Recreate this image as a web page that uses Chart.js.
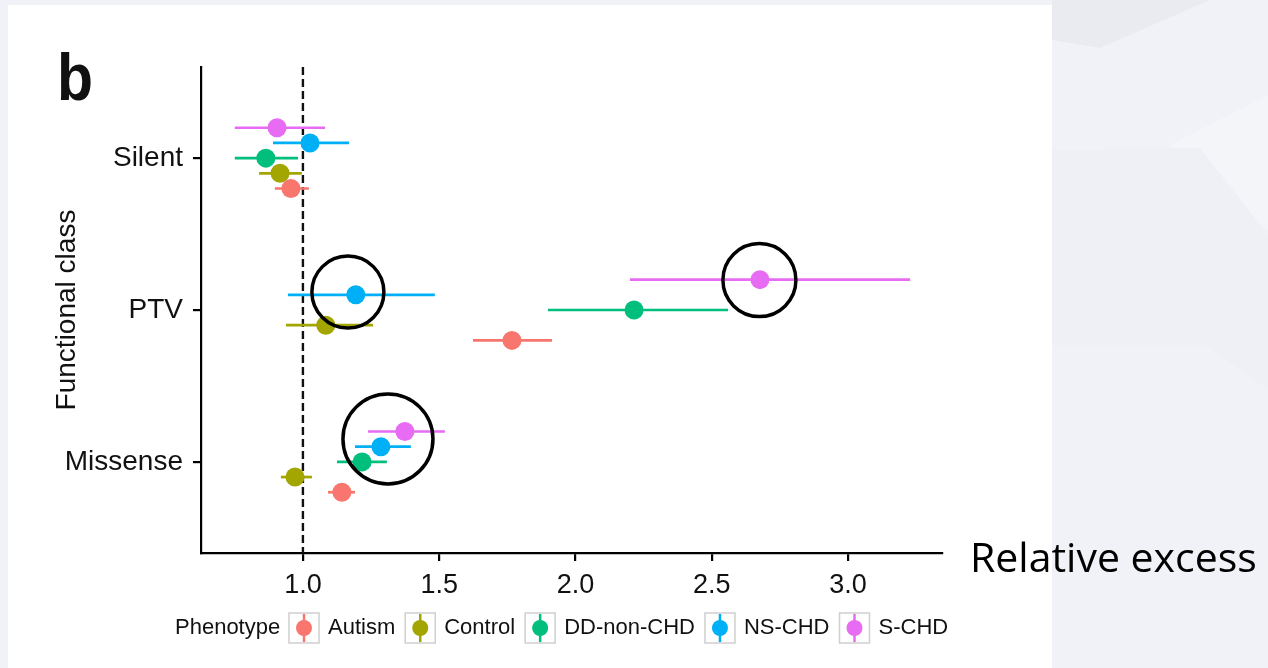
<!DOCTYPE html>
<html>
<head>
<meta charset="utf-8">
<script src="https://cdn.jsdelivr.net/npm/chart.js@4.4.0/dist/chart.umd.min.js"></script>
<style>
  html, body { margin: 0; padding: 0; }
  body { width: 1268px; height: 668px; background: #f1f2f7; position: relative; overflow: hidden; }
  .shape { position: absolute; left: 0; top: 0; width: 1268px; height: 668px; }
  #panel { position: absolute; left: 8px; top: 5px; width: 1044px; height: 663px; background: #fff; }
  #chart { position: absolute; left: 0; top: 0; }
  #panelLabel { position: absolute; left: 57px; top: 43px; font: bold 67px/67px 'Liberation Sans', Arial, sans-serif; color: #111; transform: scaleX(0.88); transform-origin: left top; }
  #xTitle { position: absolute; left: 970px; top: 536px; font: 41px/41px 'Open Sans', sans-serif; color: #000; white-space: nowrap; }
</style>
</head>
<body>
<div class="shape" style="background:#e9ebf1; clip-path: polygon(1052px 0, 1210px 0, 1100px 48px, 1052px 40px);"></div>
<div class="shape" style="background:#f4f5f9; clip-path: polygon(1170px 145px, 1268px 95px, 1268px 230px);"></div>
<div class="shape" style="background:#eef0f5; clip-path: polygon(1052px 150px, 1200px 148px, 1268px 235px, 1268px 390px, 1205px 345px, 1052px 345px);"></div>
<div id="panel"></div>
<canvas id="chart" width="1268" height="668"></canvas>
<div id="panelLabel">b</div>
<div id="xTitle">Relative excess</div>

<script>
// 分類與表型
const classes = ['Missense', 'PTV', 'Silent'];          // y = 1, 2, 3
const phenotypes = ['Autism', 'Control', 'DD-non-CHD', 'NS-CHD', 'S-CHD'];
const phenoColors = ['#F8766D', '#A3A500', '#00BF7D', '#00B0F6', '#E76BF3'];
const phenoOffsets = [-0.2, -0.1, 0, 0.1, 0.2];
const xTicks = [1.0, 1.5, 2.0, 2.5, 3.0];

// 各表型的估計值與信賴區間 (順序: Missense, PTV, Silent)
const autismEst = [1.143, 1.767, 0.956];
const autismLo  = [1.092, 1.624, 0.897];
const autismHi  = [1.191, 1.914, 1.022];

const controlEst = [0.971, 1.084, 0.916];
const controlLo  = [0.919, 0.938, 0.839];
const controlHi  = [1.033, 1.257, 0.996];

const ddEst = [1.217, 2.215, 0.864];
const ddLo  = [1.125, 1.899, 0.750];
const ddHi  = [1.308, 2.560, 0.982];

const nsEst = [1.286, 1.194, 1.026];
const nsLo  = [1.191, 0.945, 0.890];
const nsHi  = [1.396, 1.484, 1.169];

const sEst = [1.374, 2.677, 0.905];
const sLo  = [1.239, 2.200, 0.750];
const sHi  = [1.521, 3.228, 1.081];

// 圈起來的註記 (資料座標)
const circleX = [1.165, 2.675, 1.312];
const circleY = [2.118, 2.197, 1.151];
const circleR = [36, 36.5, 45];

const estimates = [autismEst, controlEst, ddEst, nsEst, sEst];
const lowers = [autismLo, controlLo, ddLo, nsLo, sLo];
const uppers = [autismHi, controlHi, ddHi, nsHi, sHi];

const FONT = "'Liberation Sans', Arial, sans-serif";

// 誤差線
const errorBars = {
  id: 'errorBars',
  beforeDatasetsDraw(chart) {
    const { ctx, scales: { x, y } } = chart;
    ctx.save();
    ctx.lineWidth = 2.7;
    chart.data.datasets.forEach(ds => {
      ctx.strokeStyle = ds.borderColor;
      ds.data.forEach(p => {
        const py = y.getPixelForValue(p.y);
        ctx.beginPath();
        ctx.moveTo(x.getPixelForValue(p.lo), py);
        ctx.lineTo(x.getPixelForValue(p.hi), py);
        ctx.stroke();
      });
    });
    ctx.restore();
  }
};

// x = 1 的虛線
const refLine = {
  id: 'refLine',
  beforeDatasetsDraw(chart) {
    const { ctx, chartArea, scales: { x } } = chart;
    const px = x.getPixelForValue(1);
    ctx.save();
    ctx.strokeStyle = '#111';
    ctx.lineWidth = 2.4;
    ctx.setLineDash([8, 4]);
    ctx.beginPath();
    ctx.moveTo(px, chartArea.top);
    ctx.lineTo(px, chartArea.bottom);
    ctx.stroke();
    ctx.restore();
  }
};

// 黑色圓圈
const highlightCircles = {
  id: 'highlightCircles',
  afterDatasetsDraw(chart) {
    const { ctx, scales: { x, y } } = chart;
    ctx.save();
    ctx.strokeStyle = '#000';
    ctx.lineWidth = 3.5;
    circleX.forEach((cx, i) => {
      ctx.beginPath();
      ctx.arc(x.getPixelForValue(cx), y.getPixelForValue(circleY[i]), circleR[i], 0, Math.PI * 2);
      ctx.stroke();
    });
    ctx.restore();
  }
};

// 底部圖例 (ggplot 風格)
const phenotypeLegend = {
  id: 'phenotypeLegend',
  afterDraw(chart) {
    const ctx = chart.ctx;
    const cy = 628;
    ctx.save();
    ctx.font = '22px ' + FONT;
    ctx.fillStyle = '#111';
    ctx.textBaseline = 'middle';
    ctx.textAlign = 'left';
    ctx.fillText('Phenotype', 175, cy);
    let xPos = 289;
    chart.data.datasets.forEach(ds => {
      ctx.fillStyle = '#fff';
      ctx.fillRect(xPos, cy - 15, 30, 30);
      ctx.strokeStyle = '#cfcfcf';
      ctx.lineWidth = 1.5;
      ctx.strokeRect(xPos, cy - 15, 30, 30);
      ctx.strokeStyle = ds.borderColor;
      ctx.lineWidth = 2.5;
      ctx.beginPath();
      ctx.moveTo(xPos + 15, cy - 14);
      ctx.lineTo(xPos + 15, cy + 14);
      ctx.stroke();
      ctx.fillStyle = ds.backgroundColor;
      ctx.beginPath();
      ctx.arc(xPos + 15, cy, 8, 0, Math.PI * 2);
      ctx.fill();
      ctx.fillStyle = '#111';
      const tx = xPos + 39;
      ctx.fillText(ds.label, tx, cy);
      xPos = tx + ctx.measureText(ds.label).width + 10;
    });
    ctx.restore();
  }
};

const datasets = phenotypes.map((name, i) => ({
  label: name,
  data: classes.map((c, j) => ({
    x: estimates[i][j],
    y: j + 1 + phenoOffsets[i],
    lo: lowers[i][j],
    hi: uppers[i][j]
  })),
  backgroundColor: phenoColors[i],
  borderColor: phenoColors[i],
  borderWidth: 0,
  pointRadius: 9.5,
  pointHoverRadius: 9.5
}));

new Chart(document.getElementById('chart'), {
  type: 'scatter',
  data: { datasets },
  options: {
    responsive: false,
    animation: false,
    events: [],
    layout: { padding: { left: 0, top: 67, right: 326, bottom: 0 } },
    plugins: { legend: { display: false }, tooltip: { enabled: false } },
    scales: {
      x: {
        type: 'linear',
        min: 0.626,
        max: 3.345,
        afterBuildTicks: s => { s.ticks = xTicks.map(v => ({ value: v })); },
        afterFit: s => { s.height = 115; },
        ticks: {
          callback: v => Number(v).toFixed(1),
          font: { size: 27, family: FONT },
          color: '#111',
          padding: 8,
          maxRotation: 0,
          autoSkip: false
        },
        grid: { display: true, drawOnChartArea: false, drawTicks: true, tickLength: 8, color: '#000', lineWidth: 2.2 },
        border: { display: true, color: '#000', width: 2.2 }
      },
      y: {
        type: 'linear',
        min: 0.4,
        max: 3.6,
        afterBuildTicks: s => { s.ticks = classes.map((c, j) => ({ value: j + 1 })); },
        afterFit: s => { s.width = 201; },
        ticks: {
          callback: v => classes[Math.round(v) - 1],
          font: { size: 28, family: FONT },
          color: '#111',
          padding: 10,
          autoSkip: false
        },
        title: {
          display: true,
          text: 'Functional class',
          font: { size: 28, family: FONT },
          color: '#111',
          padding: { top: 50, bottom: 0 }
        },
        grid: { display: true, drawOnChartArea: false, drawTicks: true, tickLength: 8, color: '#000', lineWidth: 2.2 },
        border: { display: true, color: '#000', width: 2.2 }
      }
    }
  },
  plugins: [refLine, errorBars, highlightCircles, phenotypeLegend]
});
</script>
</body>
</html>
